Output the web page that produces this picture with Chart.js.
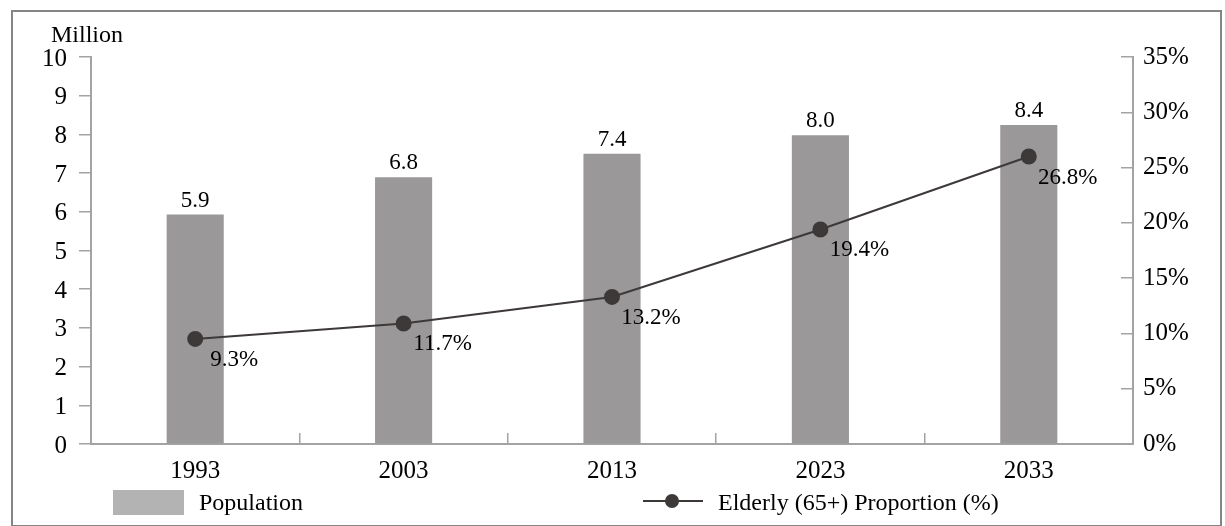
<!DOCTYPE html>
<html>
<head>
<meta charset="utf-8">
<script src="https://cdn.jsdelivr.net/npm/chart.js@4"></script>
<style>
  body { margin: 0; background: #fff; }
  #wrap { position: relative; width: 1225px; height: 526px; }
  #frame { position: absolute; left: 11px; top: 10px; width: 1207px; height: 513px; border: 2px solid #858585; pointer-events: none; }
  canvas { position: absolute; left: 0; top: 0; }
  .lg { position: absolute; font: 24px "Liberation Serif", "DejaVu Serif", serif; color: #000; line-height: 26px; }
</style>
</head>
<body>
<div id="wrap">
  <canvas id="myChart" width="1225" height="526"></canvas>
  <div id="frame"></div>
  <div id="legend"></div>
</div>
<script>
const years = ['1993', '2003', '2013', '2023', '2033'];
const population = [5.93, 6.89, 7.5, 7.98, 8.24];
const populationLabels = ['5.9', '6.8', '7.4', '8.0', '8.4'];
const elderly = [9.5, 10.9, 13.3, 19.4, 26.0];
const elderlyLabels = ['9.3%', '11.7%', '13.2%', '19.4%', '26.8%'];

const FONT = '"Liberation Serif", "DejaVu Serif", serif';
const axisGray = '#a3a3a3';
const barGray = '#9a9898';
const lineDark = '#3d3939';

// value labels + "Million" caption
const labelPlugin = {
  id: 'valueLabels',
  afterDatasetsDraw(chart) {
    const ctx = chart.ctx;
    ctx.save();
    ctx.fillStyle = '#000';
    ctx.font = '23px ' + FONT;
    let bars = chart.getDatasetMeta(0).data;
    ctx.textAlign = 'center';
    ctx.textBaseline = 'alphabetic';
    bars.forEach(function (b, i) {
      ctx.fillText(populationLabels[i], b.x, b.y - 8);
    });
    let pts = chart.getDatasetMeta(1).data;
    pts.forEach(function (p, i) {
      ctx.fillText(elderlyLabels[i], p.x + 39, p.y + 27);
    });
    ctx.textAlign = 'left';
    ctx.font = '24px ' + FONT;
    ctx.fillText('Million', 51, 42);
    ctx.restore();
  }
};

const chart = new Chart('myChart', {
  data: {
    labels: years,
    datasets: [{
      type: 'bar',
      label: 'Population',
      data: population,
      backgroundColor: barGray,
      barPercentage: 0.274,
      categoryPercentage: 1,
      yAxisID: 'y',
      order: 2
    }, {
      type: 'line',
      label: 'Elderly (65+) Proportion (%)',
      data: elderly,
      borderColor: lineDark,
      backgroundColor: lineDark,
      borderWidth: 2,
      pointRadius: 7,
      pointHoverRadius: 7,
      yAxisID: 'y2',
      order: 1
    }]
  },
  options: {
    responsive: false,
    animation: false,
    layout: { padding: { left: 0, right: 0, top: 57, bottom: 0 } },
    plugins: {
      legend: { display: false },
      tooltip: { enabled: false }
    },
    scales: {
      x: {
        grid: { display: true, drawOnChartArea: false, color: axisGray, lineWidth: 1.5, tickLength: -11 },
        border: { color: axisGray, width: 2 },
        ticks: { color: '#000', font: { family: FONT, size: 25 }, padding: 23 },
        afterFit(s) { s.height = 82; }
      },
      y: {
        position: 'left',
        min: 0, max: 10,
        ticks: { stepSize: 1, color: '#000', font: { family: FONT, size: 25 }, padding: 12, labelOffset: 2 },
        grid: { drawOnChartArea: false, color: axisGray, lineWidth: 1.5, tickLength: 12 },
        border: { color: axisGray, width: 2 },
        afterFit(s) { s.width = 91; }
      },
      y2: {
        position: 'right',
        min: 0, max: 35,
        ticks: {
          stepSize: 5, color: '#000', font: { family: FONT, size: 25 }, padding: 22,
          callback: function (v) { return v + '%'; }
        },
        grid: { drawOnChartArea: false, color: axisGray, lineWidth: 1.5, tickLength: -12 },
        border: { color: axisGray, width: 2 },
        afterFit(s) { s.width = 92; }
      }
    }
  },
  plugins: [labelPlugin]
});

// html legend built from the datasets
const legend = document.getElementById('legend');
const ds = chart.data.datasets;
legend.innerHTML =
  '<div style="position:absolute;left:113px;top:490px;width:71px;height:25px;background:#b3b3b3"></div>' +
  '<div class="lg" style="left:199px;top:489px">' + ds[0].label + '</div>' +
  '<div style="position:absolute;left:643px;top:500px;width:60px;height:2px;background:' + ds[1].borderColor + '"></div>' +
  '<div style="position:absolute;left:665px;top:494px;width:14px;height:14px;border-radius:50%;background:' + ds[1].backgroundColor + '"></div>' +
  '<div class="lg" style="left:718px;top:489px">' + ds[1].label + '</div>';
</script>
</body>
</html>
